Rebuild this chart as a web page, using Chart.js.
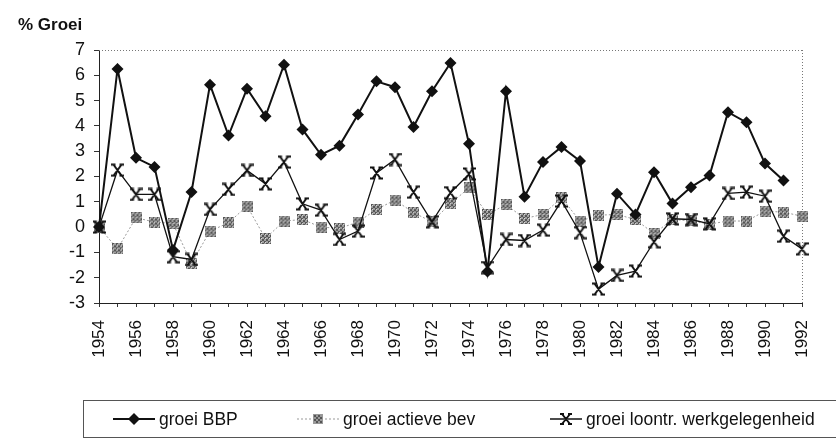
<!DOCTYPE html>
<html>
<head>
<meta charset="utf-8">
<script src="https://cdn.jsdelivr.net/npm/chart.js@4"></script>
<style>
html,body{margin:0;padding:0;background:#fff;}
body{width:836px;height:439px;position:relative;overflow:hidden;font-family:"Liberation Sans",Arial,sans-serif;}
#wrap{position:absolute;left:0;top:0;width:836px;height:439px;}
#title{position:absolute;left:18px;top:16px;font-weight:bold;font-size:17px;line-height:1;color:#111;}
#legend{position:absolute;left:83px;top:400px;width:800px;height:36px;border:1px solid #555;border-right:none;}
.item{position:absolute;top:0;height:36px;display:flex;align-items:center;font-size:17.5px;color:#111;}
.item svg{margin-right:4px;}
</style>
</head>
<body>
<div id="wrap"><canvas id="c" width="836" height="439"></canvas></div>
<div id="title">% Groei</div>
<div id="legend">
  <div class="item" style="left:29px"><svg width="42" height="14"><line x1="0" y1="7" x2="42" y2="7" stroke="#111" stroke-width="2"/><polygon points="21,1 27,7 21,13 15,7" fill="#111"/></svg>groei BBP</div>
  <div class="item" style="left:213px"><svg width="42" height="14"><line x1="0" y1="7" x2="42" y2="7" stroke="#999" stroke-width="1" stroke-dasharray="2,2"/><rect x="16" y="2" width="10" height="10" fill="#999"/><rect x="17" y="3" width="2" height="2" fill="#555"/><rect x="21" y="3" width="2" height="2" fill="#555"/><rect x="19" y="5" width="2" height="2" fill="#555"/><rect x="23" y="5" width="2" height="2" fill="#555"/><rect x="17" y="7" width="2" height="2" fill="#555"/><rect x="21" y="7" width="2" height="2" fill="#555"/><rect x="19" y="9" width="2" height="2" fill="#555"/><rect x="23" y="9" width="2" height="2" fill="#555"/></svg>groei actieve bev</div>
  <div class="item" style="left:466px"><svg width="32" height="14"><line x1="0" y1="7" x2="32" y2="7" stroke="#111" stroke-width="1.5"/><path d="M12,2 L20,12 M20,2 L12,12 M10,2 L14,2 M18,2 L22,2 M10,12 L14,12 M18,12 L22,12" stroke="#111" stroke-width="2" fill="none"/></svg>groei loontr. werkgelegenheid</div>
</div>
<script>
const years = ['1954','1955','1956','1957','1958','1959','1960','1961','1962','1963','1964','1965','1966','1967','1968','1969','1970','1971','1972','1973','1974','1975','1976','1977','1978','1979','1980','1981','1982','1983','1984','1985','1986','1987','1988','1989','1990','1991','1992'];
const groeiBBP = [0,6.25,2.74,2.38,-0.91,1.39,5.63,3.62,5.47,4.38,6.42,3.86,2.86,3.22,4.45,5.76,5.53,3.96,5.37,6.49,3.29,-1.75,5.37,1.2,2.57,3.17,2.61,-1.58,1.32,0.5,2.17,0.93,1.58,2.04,4.54,4.14,2.51,1.84,null];
const groeiActieveBev = [0,-0.86,0.37,0.2,0.14,-1.43,-0.16,0.17,0.83,-0.45,0.24,0.3,0.0,-0.05,0.2,0.7,1.07,0.57,0.21,0.93,1.55,0.5,0.89,0.34,0.5,1.16,0.24,0.47,0.5,0.3,-0.26,0.3,0.25,0.12,0.24,0.24,0.63,0.59,0.43];
const groeiWerk = [0,2.25,1.29,1.29,-1.17,-1.28,0.7,1.49,2.24,1.71,2.57,0.92,0.67,-0.49,-0.16,2.14,2.67,1.38,0.21,1.36,2.1,-1.6,-0.49,-0.53,-0.12,1.03,-0.22,-2.45,-1.91,-1.74,-0.58,0.33,0.3,0.13,1.33,1.38,1.22,-0.36,-0.86];
const yTicks = [-3,-2,-1,0,1,2,3,4,5,6,7];

function makeGray(){
  const c=document.createElement('canvas');c.width=11;c.height=11;
  const g=c.getContext('2d');
  g.fillStyle='#a0a0a0';g.fillRect(0,0,11,11);
  g.fillStyle='#555';
  for(let y=0;y<11;y+=2)for(let x=(y%4===0?0:2);x<11;x+=4)g.fillRect(x,y,2,2);
  g.fillStyle='#d8d8d8';
  for(let y=1;y<11;y+=4)for(let x=1;x<11;x+=4)g.fillRect(x,y,1,1);
  return c;
}
function makeX(){
  const c=document.createElement('canvas');c.width=13;c.height=14;
  const g=c.getContext('2d');
  g.strokeStyle='#111';g.lineWidth=2;
  g.beginPath();
  g.moveTo(2.5,1.5);g.lineTo(10.5,12.5);
  g.moveTo(10.5,1.5);g.lineTo(2.5,12.5);
  g.moveTo(0,1.5);g.lineTo(4.5,1.5);
  g.moveTo(8.5,1.5);g.lineTo(13,1.5);
  g.moveTo(0,12.5);g.lineTo(4.5,12.5);
  g.moveTo(8.5,12.5);g.lineTo(13,12.5);
  g.stroke();
  return c;
}

const dottedFrame = {
  id:'dottedFrame',
  beforeDatasetsDraw(chart){
    const {ctx, chartArea:a} = chart;
    ctx.save();
    ctx.strokeStyle='#777';ctx.lineWidth=1;ctx.setLineDash([1,2]);
    ctx.beginPath();
    ctx.moveTo(a.left,a.top+0.5);ctx.lineTo(a.right,a.top+0.5);
    ctx.moveTo(a.right+0.5,a.top);ctx.lineTo(a.right+0.5,a.bottom);
    ctx.stroke();
    ctx.restore();
  }
};

const font = {family:'"Liberation Sans", Arial, sans-serif', size:17};
new Chart(document.getElementById('c'), {
  type:'line',
  data:{
    labels:years,
    datasets:[
      {label:'groei BBP', data:groeiBBP, borderColor:'#111', borderWidth:2, pointStyle:'rectRot', pointRadius:6, pointBackgroundColor:'#111', pointBorderColor:'#111', pointBorderWidth:0, tension:0, order:1, spanGaps:false},
      {label:'groei actieve bev', data:groeiActieveBev, borderColor:'#9a9a9a', borderWidth:1, borderDash:[2,2], pointStyle:makeGray(), pointRadius:5, tension:0, order:3},
      {label:'groei loontr. werkgelegenheid', data:groeiWerk, borderColor:'#111', borderWidth:1.3, pointStyle:makeX(), pointRadius:6, tension:0, order:2}
    ]
  },
  options:{
    responsive:false, animation:false,
    layout:{padding:{left:0,right:34,top:50,bottom:0}},
    plugins:{legend:{display:false}, tooltip:{enabled:false}, title:{display:false}},
    scales:{
      x:{
        type:'category', offset:false,
        grid:{drawOnChartArea:false, drawTicks:true, tickLength:4, color:'#333', offset:false},
        border:{color:'#222', width:1},
        ticks:{autoSkip:false, maxRotation:90, minRotation:90, padding:13, color:'#111', font:font,
          callback:function(v,i){ const l=this.getLabelForValue(v); return (parseInt(l)%2===0)?l:''; }},
        afterFit(s){ s.height = 136; }
      },
      y:{
        min:-3, max:7,
        afterBuildTicks(s){ s.ticks = yTicks.map(v=>({value:v})); },
        grid:{drawOnChartArea:false, drawTicks:true, tickLength:5, color:'#333'},
        border:{color:'#222', width:1},
        ticks:{padding:9, color:'#111', font:{family:font.family, size:18}, callback:v=>String(v)},
        afterFit(s){ s.width = 99; }
      }
    }
  },
  plugins:[dottedFrame]
});
</script>
</body>
</html>
